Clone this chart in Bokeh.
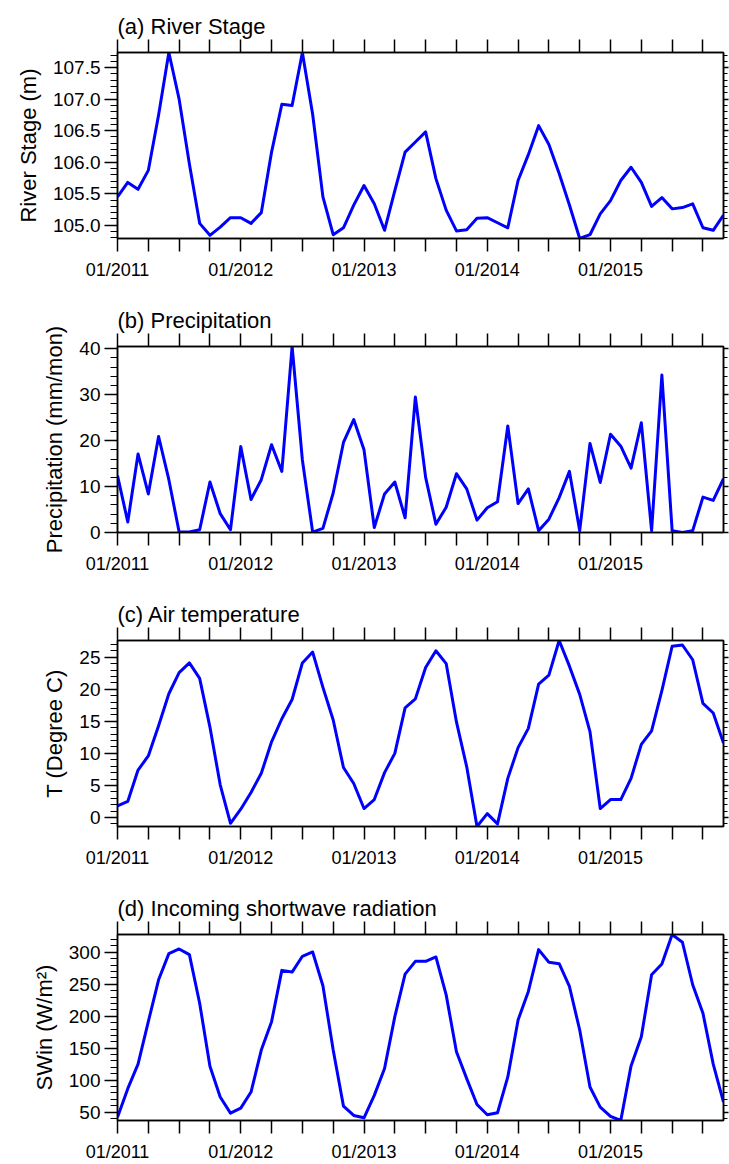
from bokeh.plotting import figure
from bokeh.layouts import column
from bokeh.models import (FixedTicker, SingleIntervalTicker, LinearAxis, Range1d,
                          PrintfTickFormatter)
from bokeh.embed import file_html
from bokeh.resources import INLINE

# ---------------- data (monthly, 01/2011 .. 12/2015) ----------------
months = list(range(60))
year_ticks = [0, 12, 24, 36, 48]
year_labels = ["01/2011", "01/2012", "01/2013", "01/2014", "01/2015"]

river_stage = [105.45, 105.68, 105.57, 105.87, 106.75, 107.74, 107.00, 105.97, 105.03, 104.84, 104.97, 105.12,
               105.12, 105.03, 105.20, 106.16, 106.92, 106.90, 107.74, 106.76, 105.45, 104.85, 104.96, 105.32,
               105.63, 105.34, 104.92, 105.55, 106.16, 106.32, 106.48, 105.74, 105.24, 104.91, 104.93, 105.11,
               105.12, 105.04, 104.96, 105.71, 106.12, 106.58, 106.28, 105.82, 105.32, 104.79, 104.85, 105.18,
               105.39, 105.71, 105.92, 105.68, 105.30, 105.44, 105.26, 105.28, 105.34, 104.96, 104.92, 105.16]

precip = [12.4, 2.3, 17.1, 8.4, 20.9, 11.5, 0.1, 0.1, 0.6, 11.0, 4.1, 0.6,
          18.7, 7.2, 11.5, 19.1, 13.3, 40.5, 15.8, 0.1, 0.9, 8.6, 19.6, 24.6,
          18.0, 1.1, 8.4, 11.0, 3.2, 29.5, 12.0, 1.8, 5.5, 12.8, 9.5, 2.7,
          5.4, 6.7, 23.2, 6.3, 9.5, 0.4, 2.9, 7.6, 13.3, 0.4, 19.4, 10.9,
          21.4, 18.8, 14.0, 23.9, 0.4, 34.3, 0.4, 0.0, 0.4, 7.7, 7.0, 11.7]

air_temp = [1.8, 2.5, 7.4, 9.6, 14.3, 19.3, 22.6, 24.1, 21.7, 14.1, 5.1, -0.9,
            1.3, 3.9, 6.9, 11.8, 15.4, 18.4, 24.1, 25.8, 20.3, 15.2, 7.8, 5.3,
            1.4, 2.8, 7.0, 10.0, 17.1, 18.5, 23.4, 26.0, 24.0, 14.9, 7.9, -1.4,
            0.6, -1.0, 6.1, 10.9, 13.9, 20.8, 22.2, 27.6, 23.6, 19.2, 13.4, 1.4,
            2.8, 2.8, 6.1, 11.4, 13.5, 19.8, 26.7, 26.9, 24.6, 17.8, 16.3, 11.6]

swin = [42.1, 86.7, 125.0, 191.5, 257.0, 297.9, 305.2, 296.3, 220.3, 121.8, 73.6, 48.4,
        56.3, 81.4, 147.0, 191.5, 271.7, 269.0, 293.7, 300.5, 247.6, 147.0, 59.4, 44.8,
        41.1, 76.2, 118.1, 199.4, 265.9, 285.8, 285.8, 292.7, 233.4, 144.3, 102.4, 62.0,
        45.8, 49.0, 105.0, 194.1, 238.7, 304.2, 284.3, 282.2, 246.5, 178.4, 89.3, 57.9,
        43.2, 36.9, 122.3, 167.9, 264.9, 281.7, 327.8, 315.7, 249.2, 204.6, 125.0, 65.7]

FONT = "Liberation Sans"


def make_panel(title, ylabel, y, interval, fmt, last=False):
    p = figure(frame_width=606, frame_height=186,
               x_range=Range1d(months[0], months[-1]),
               y_range=Range1d(min(y), max(y)),
               output_backend="svg", toolbar_location=None,
               x_axis_location=None, y_axis_location=None,
               min_border_left=117, min_border_right=6,
               min_border_top=52, min_border_bottom=44 if last else 56,
               background_fill_color="white", border_fill_color="white")
    p.xgrid.visible = False
    p.ygrid.visible = False
    p.outline_line_color = "black"
    p.outline_line_width = 1.5
    p.outline_line_alpha = 1.0

    xticks = list(range(0, 60, 3))
    overrides = {t: "" for t in xticks}
    for t, lab in zip(year_ticks, year_labels):
        overrides[t] = lab

    common = dict(axis_line_color="black", axis_line_width=1.5,
                  major_tick_line_color="black", major_tick_line_width=1.5,
                  minor_tick_line_color="black", minor_tick_line_width=1.0,
                  major_tick_in=0, minor_tick_in=0)

    bottom = LinearAxis(ticker=FixedTicker(ticks=xticks), major_label_overrides=overrides,
                        major_tick_out=13, major_label_standoff=8,
                        major_label_text_font=FONT, major_label_text_font_size="18px",
                        major_label_text_color="black", **common)
    top = LinearAxis(ticker=FixedTicker(ticks=xticks),
                     major_label_overrides={t: "" for t in xticks},
                     major_tick_out=13, major_label_standoff=0,
                     major_label_text_font_size="0px", **common)
    yticker = SingleIntervalTicker(interval=interval, num_minor_ticks=5)
    left = LinearAxis(ticker=yticker, formatter=PrintfTickFormatter(format=fmt),
                      major_tick_out=13, minor_tick_out=7, major_label_standoff=4,
                      major_label_text_font=FONT, major_label_text_font_size="19px",
                      major_label_text_color="black",
                      axis_label=ylabel, axis_label_standoff=9,
                      axis_label_text_font=FONT, axis_label_text_font_size="22px",
                      axis_label_text_font_style="normal", axis_label_text_color="black",
                      **common)
    right = LinearAxis(ticker=yticker, major_tick_out=5, minor_tick_out=4,
                       major_label_standoff=0, major_label_text_font_size="0px",
                       formatter=PrintfTickFormatter(format=" "), **common)
    p.add_layout(bottom, "below")
    p.add_layout(top, "above")
    p.add_layout(left, "left")
    p.add_layout(right, "right")

    p.title.text = title
    p.title.text_font = FONT
    p.title.text_font_size = "22px"
    p.title.text_font_style = "normal"
    p.title.text_color = "black"
    p.title.align = "left"
    p.title.standoff = 2

    p.line(months, y, line_color="#0000ff", line_width=3, line_join="round")
    return p


panels = [
    make_panel("(a) River Stage", "River Stage (m)", river_stage, 0.5, "%.1f"),
    make_panel("(b) Precipitation", "Precipitation (mm/mon)", precip, 10, "%d"),
    make_panel("(c) Air temperature", "T (Degree C)", air_temp, 5, "%d"),
    make_panel("(d) Incoming shortwave radiation", "SWin (W/m\u00b2)", swin, 50, "%d", last=True),
]

layout = column(*panels, spacing=0)
open("out.html", "w").write(file_html(layout, INLINE))
